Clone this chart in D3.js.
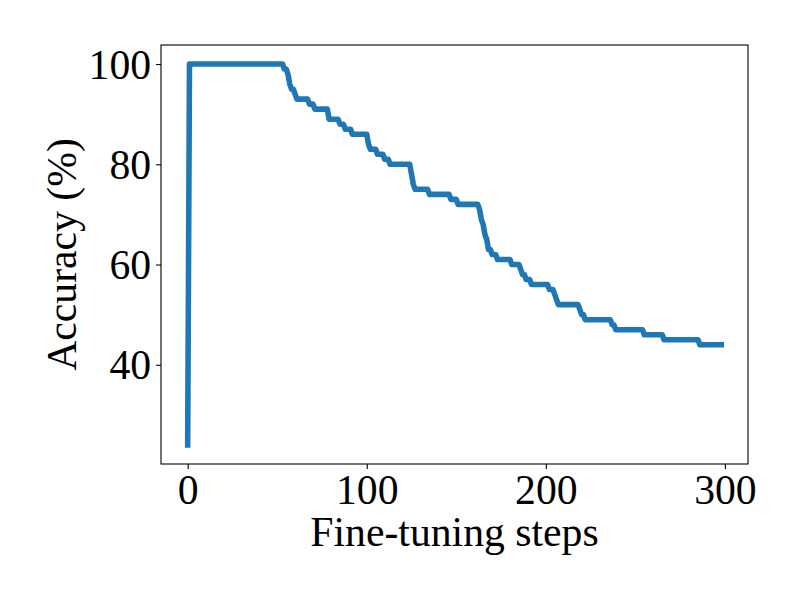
<!DOCTYPE html>
<html>
<head>
<meta charset="utf-8">
<script src="https://cdn.jsdelivr.net/npm/d3@7"></script>
<style>
  body { margin: 0; background: #fff; }
  text { font-family: "Liberation Serif", "DejaVu Serif", serif; fill: #000; }
</style>
</head>
<body>
<div id="chart"></div>
<script>
// steps where the accuracy changes, and the value from that step on
var changeSteps = [0, 1, 54, 56, 57, 58, 60, 61, 68, 71, 79, 85, 88, 92, 101, 102, 106, 110, 113,
  125, 126, 127, 135, 147, 151, 163, 164, 165, 166, 167, 168, 170, 173, 181, 186, 187, 189, 192,
  202, 205, 206, 207, 219, 220, 222, 237, 239, 255, 266, 286, 298];
var accuracy = [24, 100, 99, 98, 96, 95, 94, 93, 92, 91, 89, 88, 87, 86, 84, 83, 82, 81, 80,
  78, 76, 75, 74, 73, 72, 71, 69, 68, 66, 65, 63, 62, 61, 60, 59, 58, 57, 56,
  55, 54, 53, 52, 51, 50, 49, 48, 47, 46, 45, 44, 44];

var xTicks = [0, 100, 200, 300];
var yTicks = [40, 60, 80, 100];

var svgWidth = 800;
var svgHeight = 600;

var margin = { top: 45, right: 52, bottom: 136, left: 161 };
var width = svgWidth - margin.left - margin.right;
var height = svgHeight - margin.top - margin.bottom;

var svg = d3.select("#chart")
  .append("svg")
  .attr("width", svgWidth)
  .attr("height", svgHeight);

var chartGroup = svg.append("g")
  .attr("transform", `translate(${margin.left}, ${margin.top})`);

// each value is held until the step before the next change,
// then the line goes straight to the new value (one step later)
var data = [];
changeSteps.forEach(function(s, i) {
  data.push({ step: s, acc: accuracy[i] });
  var next = changeSteps[i + 1];
  if (next !== undefined && next - 1 > s) {
    data.push({ step: next - 1, acc: accuracy[i] });
  }
});

// 5% padding on each side like matplotlib
var xMin = d3.min(changeSteps), xMax = d3.max(changeSteps);
var yMin = d3.min(accuracy), yMax = d3.max(accuracy);
var xPad = (xMax - xMin) * 0.05, yPad = (yMax - yMin) * 0.05;

var xScale = d3.scaleLinear()
  .domain([xMin - xPad, xMax + xPad])
  .range([0, width]);

var yScale = d3.scaleLinear()
  .domain([yMin - yPad, yMax + yPad])
  .range([height, 0]);

var bottomAxis = d3.axisBottom(xScale).tickValues(xTicks).tickSize(4.9).tickPadding(4);
var leftAxis = d3.axisLeft(yScale).tickValues(yTicks).tickSize(4.9).tickPadding(5);

var xAxisG = chartGroup.append("g")
  .attr("transform", `translate(0, ${height})`)
  .call(bottomAxis);

var yAxisG = chartGroup.append("g")
  .call(leftAxis);

[xAxisG, yAxisG].forEach(function(g) {
  g.select(".domain").remove();
  g.selectAll(".tick line").attr("stroke", "#000").attr("stroke-width", 1.1);
  g.selectAll(".tick text")
    .attr("font-size", "41.7px")
    .attr("font-family", "Liberation Serif, serif")
    .attr("fill", "#000");
});
xAxisG.selectAll(".tick text").attr("dy", "0.74em");
yAxisG.selectAll(".tick text").attr("dy", "0.34em");

// the accuracy line
var line = d3.line()
  .x(d => xScale(d.step))
  .y(d => yScale(d.acc));

chartGroup.append("path")
  .datum(data)
  .attr("d", line)
  .attr("fill", "none")
  .attr("stroke", "#1f77b4")
  .attr("stroke-width", 5.56)
  .attr("stroke-linejoin", "round")
  .attr("stroke-linecap", "square");

// frame
chartGroup.append("rect")
  .attr("width", width)
  .attr("height", height)
  .attr("fill", "none")
  .attr("stroke", "#000")
  .attr("stroke-width", 1.1);

// axis labels
chartGroup.append("text")
  .attr("transform", "rotate(-90)")
  .attr("x", -height / 2)
  .attr("y", 76 - margin.left)
  .attr("text-anchor", "middle")
  .attr("font-size", "41.7px")
  .text("Accuracy (%)");

chartGroup.append("text")
  .attr("x", width / 2)
  .attr("y", 546 - margin.top)
  .attr("text-anchor", "middle")
  .attr("font-size", "41.7px")
  .text("Fine-tuning steps");
</script>
</body>
</html>
